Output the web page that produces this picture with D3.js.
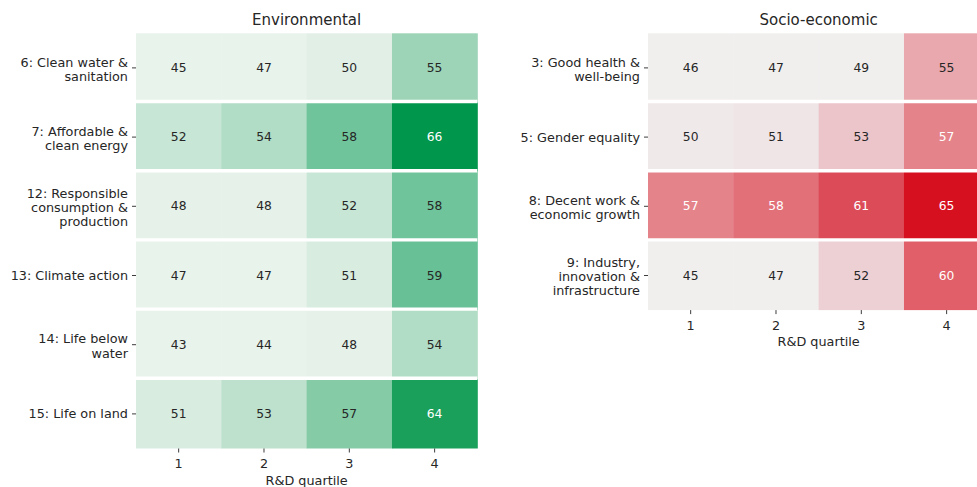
<!DOCTYPE html>
<html>
<head>
<meta charset="utf-8">
<script src="https://cdn.jsdelivr.net/npm/d3@7"></script>
<style>
  html, body { margin: 0; padding: 0; background: #fff; }
  svg { display: block; font-family: "DejaVu Sans", sans-serif; }
</style>
</head>
<body>
<svg id="chart" width="977" height="487"></svg>
<script>
// ---------- data ----------
const quartiles = ["1", "2", "3", "4"];
const envTitle = "Environmental";
const envCategories = [
  "6: Clean water &\nsanitation",
  "7: Affordable &\nclean energy",
  "12: Responsible\nconsumption &\nproduction",
  "13: Climate action",
  "14: Life below\nwater",
  "15: Life on land"
];
const envValues = [
  [45, 47, 50, 55],
  [52, 54, 58, 66],
  [48, 48, 52, 58],
  [47, 47, 51, 59],
  [43, 44, 48, 54],
  [51, 53, 57, 64]
];
const socioTitle = "Socio-economic";
const socioCategories = [
  "3: Good health &\nwell-being",
  "5: Gender equality",
  "8: Decent work &\neconomic growth",
  "9: Industry,\ninnovation &\ninfrastructure"
];
const socioValues = [
  [46, 47, 49, 55],
  [50, 51, 53, 57],
  [57, 58, 61, 65],
  [45, 47, 52, 60]
];
const xLabel = "R&D quartile";

// ---------- colour scales ----------
const greenScale = d3.scaleLinear()
  .domain([47, 50, 51, 52, 54, 55, 57, 58, 59, 64, 66])
  .range(["#e8f3eb", "#e2efe6", "#d9ece0", "#c8e6d5", "#b1dcc5", "#9dd4b7", "#84cba6", "#70c49b", "#68c196", "#1aa05b", "#00964b"])
  .clamp(true);
const redScale = d3.scaleLinear()
  .domain([49, 50, 51, 52, 53, 55, 57, 58, 60, 61, 65])
  .range(["#f0efee", "#f0e9ea", "#efe5e6", "#edd0d4", "#ecc5ca", "#e9a8ad", "#e5838a", "#e27079", "#e05f69", "#dc4b58", "#d7101f"])
  .clamp(true);

function relLum(c) {
  const rgb = d3.rgb(c);
  const f = v => { v /= 255; return v <= 0.03928 ? v / 12.92 : Math.pow((v + 0.055) / 1.055, 2.4); };
  return 0.2126 * f(rgb.r) + 0.7152 * f(rgb.g) + 0.0722 * f(rgb.b);
}

const svg = d3.select("#chart");
const TEXT = "#262626";
const LABEL_SIZE = 12.8;
const ANNOT_SIZE = 12.3;

function drawHeatmap(opts) {
  const { left, top, width, rowStep, cats, values, color, title } = opts;
  const height = rowStep * cats.length;
  const x = d3.scaleBand().domain(quartiles).range([left, left + width]);
  const y = d3.scaleBand().domain(cats).range([top, top + height]);
  const g = svg.append("g");

  cats.forEach((cat, i) => {
    quartiles.forEach((q, j) => {
      const v = values[i][j];
      const fill = color(v);
      g.append("rect")
        .attr("x", x(q)).attr("y", y(cat))
        .attr("width", x.bandwidth() + 0.5).attr("height", y.bandwidth())
        .attr("fill", fill);
      g.append("text")
        .attr("x", x(q) + x.bandwidth() / 2)
        .attr("y", y(cat) + y.bandwidth() / 2)
        .attr("text-anchor", "middle")
        .attr("dominant-baseline", "central")
        .attr("font-size", ANNOT_SIZE)
        .attr("fill", relLum(fill) > 0.408 ? TEXT : "#ffffff")
        .text(v);
    });
  });

  // white separators between rows
  cats.slice(1).forEach(cat => {
    g.append("line")
      .attr("x1", left).attr("x2", left + width)
      .attr("y1", y(cat) - 1).attr("y2", y(cat) - 1)
      .attr("stroke", "#ffffff").attr("stroke-width", 3.4);
  });

  // y ticks & labels
  cats.forEach(cat => {
    const cy = y(cat) + y.bandwidth() / 2;
    g.append("line")
      .attr("x1", left - 4).attr("x2", left)
      .attr("y1", cy).attr("y2", cy)
      .attr("stroke", TEXT).attr("stroke-width", 0.9);
    const lines = cat.split("\n");
    const lh = 14.2;
    const off = lines.length > 1 ? 1.2 : 0;
    const t = g.append("text")
      .attr("text-anchor", "end")
      .attr("font-size", LABEL_SIZE)
      .attr("fill", TEXT);
    lines.forEach((ln, k) => {
      t.append("tspan")
        .attr("x", left - 8)
        .attr("y", cy + off + (k - (lines.length - 1) / 2) * lh)
        .attr("dominant-baseline", "central")
        .text(ln);
    });
  });

  // x ticks & labels
  const bottom = top + height;
  quartiles.forEach(q => {
    const cx = x(q) + x.bandwidth() / 2;
    g.append("line")
      .attr("x1", cx).attr("x2", cx)
      .attr("y1", bottom).attr("y2", bottom + 4)
      .attr("stroke", TEXT).attr("stroke-width", 0.9);
    g.append("text")
      .attr("x", cx).attr("y", bottom + 15)
      .attr("text-anchor", "middle")
      .attr("dominant-baseline", "central")
      .attr("font-size", LABEL_SIZE)
      .attr("fill", TEXT)
      .text(q);
  });
  g.append("text")
    .attr("x", left + width / 2).attr("y", bottom + 31.5)
    .attr("text-anchor", "middle")
    .attr("dominant-baseline", "central")
    .attr("font-size", LABEL_SIZE)
    .attr("fill", TEXT)
    .text(xLabel);

  g.append("text")
    .attr("x", left + width / 2).attr("y", top - 13)
    .attr("text-anchor", "middle")
    .attr("dominant-baseline", "central")
    .attr("font-size", 15)
    .attr("fill", TEXT)
    .text(title);
}

drawHeatmap({ left: 136, top: 33.3, width: 341.3, rowStep: 69.2,
  cats: envCategories, values: envValues, color: greenScale, title: envTitle });
drawHeatmap({ left: 648, top: 33.3, width: 341.3, rowStep: 69.2,
  cats: socioCategories, values: socioValues, color: redScale, title: socioTitle });
</script>
</body>
</html>
